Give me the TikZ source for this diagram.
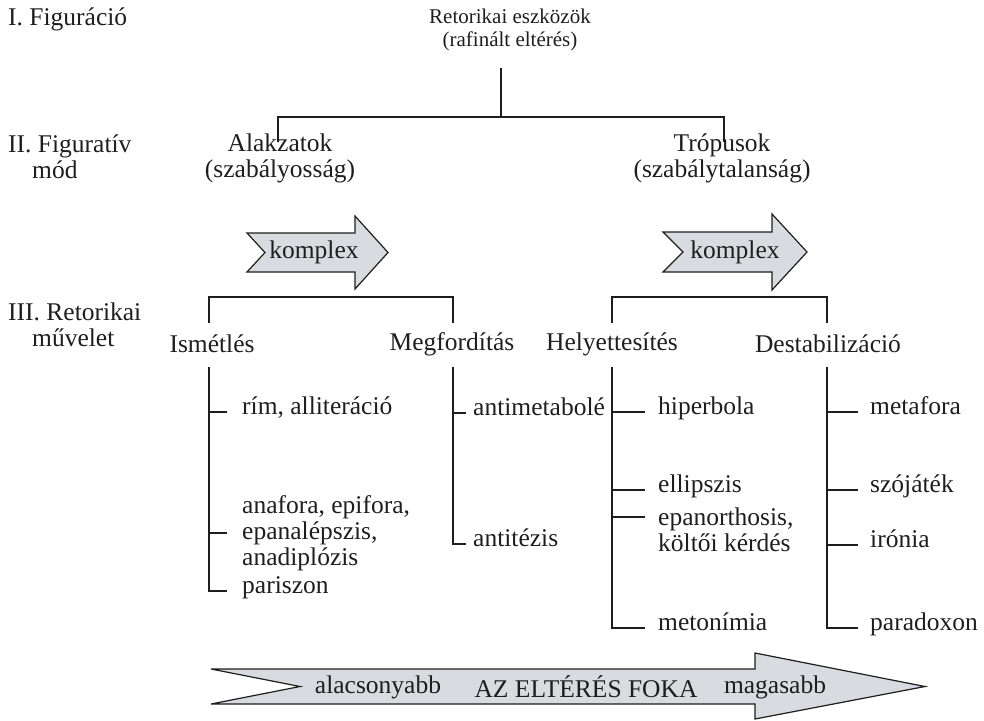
\documentclass[tikz,border=0pt]{standalone}
\usepackage{fontspec}
\setmainfont{Liberation Serif}
\definecolor{arrowfill}{RGB}{218,218,225}
\definecolor{inkc}{RGB}{30,30,30}
\begin{document}
\begin{tikzpicture}[x=1pt,y=-1pt,
  every node/.style={font=\fontsize{25.5}{26}\selectfont, inner sep=0pt, text=inkc},
  ln/.style={line width=1.3pt, draw=inkc},
  arr/.style={line width=1.2pt, draw=inkc, fill=arrowfill, line join=miter},
  side/.style={anchor=west, align=left},
  head/.style={align=center},
  leaf/.style={anchor=west, text height=0.68em, text depth=0.22em},
  leafm/.style={anchor=west, align=left}]
\useasboundingbox (0,0) rectangle (984,720);

% level labels
\node[side] (L1) at (8,19) {I. Figuráció};
\node[side] (L2) at (8,157) {II. Figuratív\\\hspace*{24pt}mód};
\node[side] (L3) at (8,325) {III. Retorikai\\\hspace*{24pt}művelet};

% title
\node[head, font=\fontsize{21}{23}\selectfont] (T) at (510,30) {Retorikai eszközök\\(rafinált eltérés)};
\coordinate (t0) at (501,68);
\coordinate (tb) at (501,117);
\coordinate (tl) at (278,117);
\coordinate (tr) at (724,117);
\coordinate (tla) at (278,142);
\coordinate (tra) at (724,142);
\draw[ln] (t0) -- (tb);
\draw[ln] (tla) -- (tl) -- (tr) -- (tra);

% level II
\node[head] (Alk) at (280,158) {Alakzatok\\(szabályosság)};
\node[head] (Trop) at (722,158) {Trópusok\\(szabálytalanság)};

% komplex arrows
\draw[arr] (247,233) -- (355,233) -- (355,216) -- (388,252.5) -- (355,289) -- (355,272) -- (247,272) -- (265,252.5) -- cycle;
\node (K1) at (314,252) {komplex};
\draw[arr] (663,232) -- (772,232) -- (772,214) -- (807,252) -- (772,290) -- (772,272) -- (663,272) -- (683,252) -- cycle;
\node (K2) at (735,252) {komplex};

% level III brackets
\coordinate (b1a) at (209,323);
\coordinate (b1l) at (209,297);
\coordinate (b1r) at (453,297);
\coordinate (b1b) at (453,323);
\draw[ln] (b1a) -- (b1l) -- (b1r) -- (b1b);
\coordinate (b2a) at (612,323);
\coordinate (b2l) at (612,297);
\coordinate (b2r) at (827,297);
\coordinate (b2b) at (827,323);
\draw[ln] (b2a) -- (b2l) -- (b2r) -- (b2b);

\node (Ism) at (212,344) {Ismétlés};
\node (Meg) at (452,344) {Megfordítás};
\node (Hely) at (612,344) {Helyettesítés};
\node (Dest) at (828,344) {Destabilizáció};

% column 1: Ismétlés
\coordinate (c1) at (209,367);
\node[leaf] (i1) at (242,412) {rím, alliteráció};
\node[leafm] (i2) at (242,533) {anafora, epifora,\\epanalépszis,\\anadiplózis};
\node[leaf] (i3) at (242,591) {pariszon};
\draw[ln] (c1) -- (c1|-i3.west) -- ([xshift=-15pt]i3.west);
\draw[ln] (c1|-i1.west) -- ([xshift=-15pt]i1.west);
\draw[ln] (c1|-i2.west) -- ([xshift=-15pt]i2.west);

% column 2: Megfordítás
\coordinate (c2) at (453,367);
\node[leaf] (m1) at (473,413) {antimetabolé};
\node[leaf] (m2) at (473,544) {antitézis};
\draw[ln] (c2) -- (c2|-m2.west) -- ([xshift=-7pt]m2.west);
\draw[ln] (c2|-m1.west) -- ([xshift=-7pt]m1.west);

% column 3: Helyettesítés
\coordinate (c3) at (612,367);
\node[leaf] (h1) at (658,412) {hiperbola};
\node[leaf] (h2) at (658,490) {ellipszis};
\node[leafm] (h3) at (658,530) {epanorthosis,\\költői kérdés};
\coordinate (h3t) at (612,517);
\coordinate (h3e) at (645,517);
\node[leaf] (h4) at (658,628) {metonímia};
\draw[ln] (c3) -- (c3|-h4.west) -- ([xshift=-13pt]h4.west);
\draw[ln] (c3|-h1.west) -- ([xshift=-13pt]h1.west);
\draw[ln] (c3|-h2.west) -- ([xshift=-13pt]h2.west);
\draw[ln] (h3t) -- (h3e);

% column 4: Destabilizáció
\coordinate (c4) at (827,367);
\node[leaf] (d1) at (870,412) {metafora};
\node[leaf] (d2) at (870,490) {szójáték};
\node[leaf] (d3) at (870,545) {irónia};
\node[leaf] (d4) at (870,628) {paradoxon};
\draw[ln] (c4) -- (c4|-d4.west) -- ([xshift=-12pt]d4.west);
\draw[ln] (c4|-d1.west) -- ([xshift=-12pt]d1.west);
\draw[ln] (c4|-d2.west) -- ([xshift=-12pt]d2.west);
\draw[ln] (c4|-d3.west) -- ([xshift=-12pt]d3.west);

% bottom arrow
\draw[arr] (211,669) -- (755,669) -- (755,653) -- (925,686.5) -- (755,719) -- (755,704) -- (211,704) -- (300,686.5) -- cycle;
\node (B1) at (378,687) {alacsonyabb};
\node (B2) at (586,687) {AZ ELTÉRÉS FOKA};
\node (B3) at (775,687) {magasabb};
\end{tikzpicture}
\end{document}
